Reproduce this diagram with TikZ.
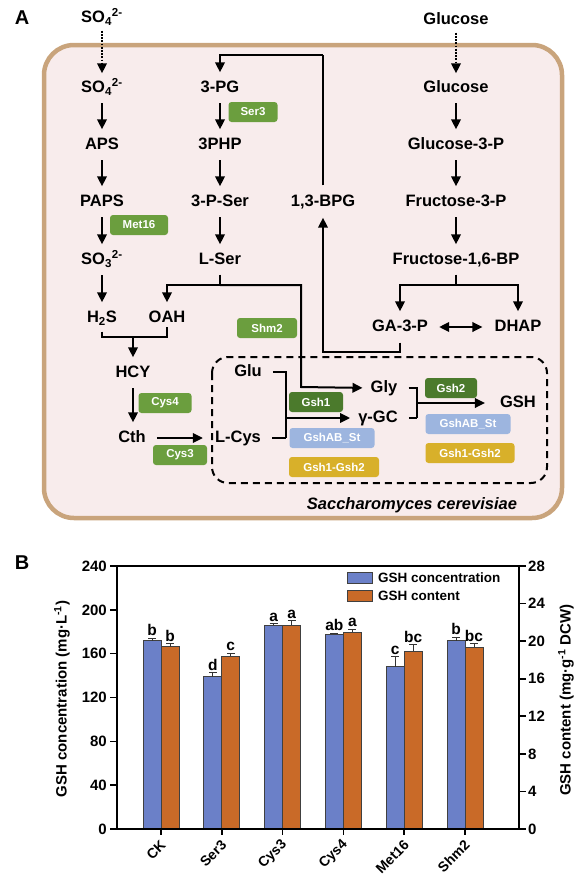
\documentclass[tikz,border=0pt]{standalone}
\usepackage{fontspec}
\setmainfont{Liberation Sans}
\usepackage{tikz}
\usetikzlibrary{arrows.meta, positioning, calc}
\definecolor{cfill}{HTML}{F8ECEC}
\definecolor{cedge}{HTML}{C9A47C}
\definecolor{egreen}{HTML}{6B9E3E}
\definecolor{edark}{HTML}{4B7A2C}
\definecolor{eblue}{HTML}{9DB5DF}
\definecolor{eyellow}{HTML}{D8B02A}
\definecolor{bblue}{HTML}{6B80C8}
\definecolor{borange}{HTML}{C96A28}
\tikzset{
  met/.style={font=\fontsize{16.5}{18}\selectfont\bfseries, inner sep=1pt,
              text height=12pt, text depth=3pt},
  enz/.style={fill=egreen, text=white, rounded corners=3pt, minimum height=20pt,
              inner sep=0pt, font=\fontsize{11.5}{12}\selectfont\bfseries},
  arr/.style={-{Triangle[length=10pt,width=9.5pt]}, line width=2pt, shorten >=7pt},
  varr/.style={arr, shorten <=6.5pt},
  harr/.style={arr, shorten <=10pt, shorten >=11pt},
  dotarr/.style={arr, line width=2.2pt, dash pattern=on 1.8pt off 1.4pt, shorten >=0pt},
  ln/.style={line width=2pt},
  brk/.style={line width=2pt, shorten <=10pt},
}
\begin{document}
\begin{tikzpicture}[x=1pt, y=-1pt,
    cellbox/.style={draw=cedge, fill=cfill, line width=4.5pt, rounded corners=30pt},
    dbox/.style={draw, line width=2pt, dash pattern=on 7pt off 5pt, rounded corners=16pt},
    barA/.style={draw=black!75, line width=0.8pt, fill=bblue},
    barB/.style={draw=black!75, line width=0.8pt, fill=borange},
    errb/.style={draw=black!80, line width=1pt},
    tick/.style={font=\fontsize{15}{16}\selectfont\bfseries, inner sep=1pt},
    lett/.style={font=\fontsize{15.5}{16}\selectfont\bfseries, inner sep=1pt}]
  \useasboundingbox (0,0) rectangle (583,886);

  \node[font=\fontsize{20}{22}\selectfont\bfseries] (lblA) at (22,18) {A};
  \draw[cellbox] (44,45) rectangle (562,518);
  \draw[dbox] (212,357) rectangle (547,483);

  \node[met] (so4out) at (102,18) {SO\textsubscript{4}\textsuperscript{2-}};
  \node[met] (glcout) at (456,20) {Glucose};
  \node[met] (so4)  at (102,88)  {SO\textsubscript{4}\textsuperscript{2-}};
  \node[met] (aps)  at (102,145) {APS};
  \node[met] (paps) at (102,202) {PAPS};
  \node[met] (so3)  at (102,260) {SO\textsubscript{3}\textsuperscript{2-}};
  \node[met] (hs)   at (102,318) {H\textsubscript{2}S};
  \node[met] (oah)  at (167,318) {OAH};
  \node[met] (hcy)  at (133,373) {HCY};
  \node[met] (cth)  at (132,438) {Cth};
  \node[met] (lcys) at (238,438) {L-Cys};
  \node[met] (pg)   at (220,88)  {3-PG};
  \node[met] (php)  at (220,145) {3PHP};
  \node[met] (pser) at (220,202) {3-P-Ser};
  \node[met] (lser) at (220,260) {L-Ser};
  \node[met] (bpg)  at (323,202) {1,3-BPG};
  \node[met] (glc)  at (456,88)  {Glucose};
  \node[met] (g3p)  at (456,145) {Glucose-3-P};
  \node[met] (f3p)  at (456,202) {Fructose-3-P};
  \node[met] (fbp)  at (456,260) {Fructose-1,6-BP};
  \node[met] (ga3p) at (400,327) {GA-3-P};
  \node[met] (dhap) at (518,327) {DHAP};
  \node[met] (glu)  at (248,372) {Glu};
  \node[met] (gly)  at (384,388) {Gly};
  \node[met] (ggc)  at (378,418) {γ-GC};
  \node[met] (gsh)  at (518,403) {GSH};
  \node[font=\fontsize{16.5}{18}\selectfont\bfseries\itshape] (sctext) at (412,505)
    {Saccharomyces cerevisiae};

  \node[enz, minimum width=49pt] (ser3)  at (253,112) {Ser3};
  \node[enz, minimum width=58pt] (met16) at (139,225) {Met16};
  \node[enz, minimum width=60pt] (shm2)  at (267,328) {Shm2};
  \node[enz, minimum width=53pt] (cys4)  at (165,403) {Cys4};
  \node[enz, minimum width=54pt] (cys3)  at (180,455) {Cys3};
  \node[enz, fill=edark, minimum width=54pt]   (gsh1)  at (316,402) {Gsh1};
  \node[enz, fill=eblue, minimum width=85pt]   (gshab) at (332,438) {GshAB\_St};
  \node[enz, fill=eyellow, minimum width=90pt] (ggone) at (334,467) {Gsh1-Gsh2};
  \node[enz, fill=edark, minimum width=52pt]   (gsh2)  at (451,388) {Gsh2};
  \node[enz, fill=eblue, minimum width=85pt]   (gshabb) at (468,424) {GshAB\_St};
  \node[enz, fill=eyellow, minimum width=89pt] (ggtwo) at (470,453) {Gsh1-Gsh2};

  \coordinate (hsoah) at (133,337);
  \coordinate (serj) at (220,285);
  \coordinate (shmc) at (301,387);
  \coordinate (bpgtop) at (323,55);
  \coordinate (gabot) at (323,352);
  \coordinate (fbpj) at (456,285);
  \coordinate (glucr) at (286,372);
  \coordinate (lcyscr) at (286,438);
  \coordinate (gcj) at (286,418);
  \coordinate (glyr) at (417,388);
  \coordinate (ggcr) at (417,418);
  \coordinate (gshj) at (417,403);

  \draw[dotarr] ([yshift=-4pt]so4out.south) -- ([yshift=6pt]so4.north);
  \draw[dotarr] ([yshift=-4pt]glcout.south) -- ([yshift=6pt]glc.north);
  \draw[varr] (so4) -- (aps);
  \draw[varr] (aps) -- (paps);
  \draw[varr] (paps) -- (so3);
  \draw[varr] (so3.south) -- (so3.south |- hs.north);
  \draw[varr] (pg) -- (php);
  \draw[varr] (php) -- (pser);
  \draw[varr] (pser) -- (lser);
  \draw[varr] (glc) -- (g3p);
  \draw[varr] (g3p) -- (f3p);
  \draw[varr] (f3p) -- (fbp);
  \draw[ln, shorten <=5pt] (hs.south) |- (hsoah) -| (oah.south);
  \draw[arr] (hsoah) -- (hcy.north);
  \draw[varr] (hcy.south) -- (hcy.south |- cth.north);
  \draw[harr] (cth.east) -- (lcys.west);
  \draw[ln, shorten <=6pt] (lser.south) -- (serj);
  \draw[arr] (serj) -| (oah.north);
  \draw[arr] (serj) -| (shmc) -- (gly.west);
  \draw[ln, shorten <=8pt] (bpg.north) -- (bpgtop);
  \draw[arr] (bpgtop) -| (pg.north);
  \draw[arr, shorten <=7pt] (ga3p.south) |- (gabot) -- (bpg.south);
  \draw[ln, shorten <=6pt] (fbp.south) -- (fbpj);
  \draw[arr] (fbpj) -| (ga3p.north);
  \draw[arr] (fbpj) -| (dhap.north);
  \draw[harr, {Triangle[length=10pt,width=9.5pt]}-{Triangle[length=10pt,width=9.5pt]}]
    (ga3p.east) -- (dhap.west);
  \draw[brk] (glu.east) -- (glucr) -- (lcyscr);
  \draw[brk] (lcys.east) -- (lcyscr);
  \draw[arr] (gcj) -- (ggc.west);
  \draw[brk] (gly.east) -- (glyr) -- (ggcr);
  \draw[brk] (ggc.east) -- (ggcr);
  \draw[arr, shorten >=14pt] (gshj) -- (gsh.west);

  \node[font=\fontsize{20}{22}\selectfont\bfseries] (lblB) at (22,563) {B};
  \foreach \n/\va/\ea/\la/\vb/\eb/\lb [count=\i from 0] in
      {CK/172/2/b/166.5/2.5/b, Ser3/139/3.5/d/157.5/3/c, Cys3/186/1.5/a/186/4/a,
       Cys4/178/0.8/ab/179.5/3/a, Met16/148/9/c/162/6/bc, Shm2/172/3/b/166/3/bc}{
    \pgfmathsetmacro\xc{161+60.8*\i}
    \pgfmathsetmacro\ya{829-1.0958*\va}
    \pgfmathsetmacro\yea{829-1.0958*(\va+\ea)}
    \pgfmathsetmacro\yb{829-1.0958*\vb}
    \pgfmathsetmacro\yeb{829-1.0958*(\vb+\eb)}
    \draw[barA] (\xc-18,829) rectangle (\xc,\ya);
    \draw[barB] (\xc,829) rectangle (\xc+18,\yb);
    \draw[errb] (\xc-9,\ya) -- (\xc-9,\yea) (\xc-13,\yea) -- (\xc-5,\yea);
    \draw[errb] (\xc+9,\yb) -- (\xc+9,\yeb) (\xc+5,\yeb) -- (\xc+13,\yeb);
    \node[lett, anchor=south] (la\i) at (\xc-9,\yea-1) {\la};
    \node[lett, anchor=south] (lb\i) at (\xc+9,\yeb-1) {\lb};
    \draw[line width=1.6pt] (\xc,829) -- (\xc,835);
    \node[tick, rotate=45, anchor=east, font=\fontsize{14}{15}\selectfont\bfseries]
      (xl\i) at (\xc+3,842) {\n};
  }
  \draw[line width=1.6pt] (117,566) -- (117,829) -- (519,829) -- (519,566) -- cycle;
  \foreach \v in {0,40,...,240}{
    \draw[line width=1.6pt] (117,829-1.0958*\v) -- (110,829-1.0958*\v);
    \node[tick, anchor=east] (yl\v) at (108,829-1.0958*\v) {\v};
  }
  \foreach \v in {0,4,...,28}{
    \draw[line width=1.6pt] (519,829-9.3929*\v) -- (526,829-9.3929*\v);
    \node[tick, anchor=west] (yr\v) at (527,829-9.3929*\v) {\v};
  }
  \draw[barA] (347,572) rectangle (372,583);
  \draw[barB] (347,590) rectangle (372,601);
  \node[anchor=west, inner sep=1pt, font=\fontsize{13.5}{14}\selectfont\bfseries]
    (legA) at (377,578) {GSH concentration};
  \node[anchor=west, inner sep=1pt, font=\fontsize{13.5}{14}\selectfont\bfseries]
    (legB) at (377,596) {GSH content};
  \node[rotate=90, font=\fontsize{15}{16}\selectfont\bfseries] (ylabA) at (62,699)
    {GSH concentration (mg·L\textsuperscript{-1})};
  \node[rotate=90, font=\fontsize{15}{16}\selectfont\bfseries] (ylabB) at (566,700)
    {GSH content (mg·g\textsuperscript{-1} DCW)};
\end{tikzpicture}
\end{document}
